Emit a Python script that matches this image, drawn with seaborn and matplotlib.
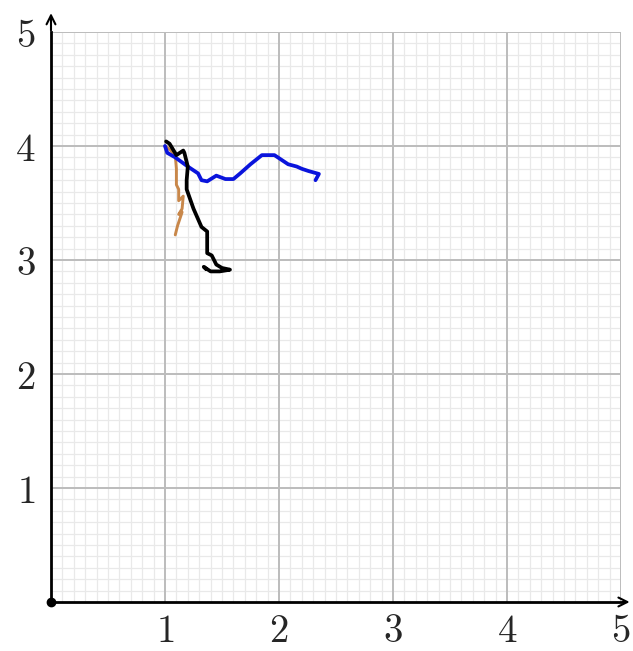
import numpy as np
import pandas as pd
import matplotlib
matplotlib.use("Agg")
import matplotlib.pyplot as plt
import seaborn as sns

sns.set_style("white")
plt.rcParams["mathtext.fontset"] = "cm"

# traced paths
blue_x = [1.00, 1.02, 1.09, 1.20, 1.29, 1.32, 1.37, 1.45, 1.53, 1.60, 1.66, 1.75,
          1.85, 1.96, 2.02, 2.08, 2.155, 2.20, 2.26, 2.35, 2.32]
blue_y = [4.00, 3.94, 3.90, 3.82, 3.76, 3.70, 3.69, 3.74, 3.71, 3.71, 3.76, 3.84,
          3.92, 3.92, 3.88, 3.84, 3.82, 3.80, 3.78, 3.755, 3.70]

black_x = [1.01, 1.04, 1.10, 1.16, 1.17, 1.20, 1.19, 1.19, 1.25, 1.32, 1.37, 1.37,
           1.41, 1.45, 1.50, 1.57, 1.48, 1.40, 1.34, 1.36]
black_y = [4.04, 4.02, 3.92, 3.96, 3.94, 3.82, 3.70, 3.62, 3.45, 3.29, 3.25, 3.06,
           3.04, 2.96, 2.93, 2.915, 2.90, 2.90, 2.94, 2.92]

brown_x = [1.00, 1.04, 1.09, 1.10, 1.10, 1.12, 1.12, 1.16, 1.15, 1.12, 1.15, 1.11, 1.09]
brown_y = [4.00, 3.97, 3.92, 3.80, 3.66, 3.62, 3.52, 3.56, 3.45, 3.40, 3.42, 3.30, 3.22]

ticks = [1, 2, 3, 4, 5]

fig = plt.figure(figsize=(6.33, 6.51), dpi=100)
ax = fig.add_axes([51 / 633, 49 / 651, 570 / 633, 570 / 651])

ax.set_xlim(0, 5)
ax.set_ylim(0, 5)

# grid: minor every 0.1 (skip integers), major at integers drawn on top
minor = [i / 10 for i in range(51) if i % 10 != 0]
ax.set_xticks(minor, minor=True)
ax.set_yticks(minor, minor=True)
ax.grid(which="minor", color="#e9e9e9", lw=0.9)
ax.set_axisbelow(True)
for t in ticks:
    ax.axvline(t, color="#bcbcbc", lw=1.4, zorder=1)
    ax.axhline(t, color="#bcbcbc", lw=1.4, zorder=1)

sns.lineplot(x=brown_x, y=brown_y, sort=False, estimator=None, color="#c8874a", lw=2.1, ax=ax, zorder=3)
sns.lineplot(x=blue_x, y=blue_y, sort=False, estimator=None, color="#0a14dc", lw=2.7, ax=ax, zorder=3)
sns.lineplot(x=black_x, y=black_y, sort=False, estimator=None, color="black", lw=2.7, ax=ax, zorder=3)

ax.set_xticks(ticks)
ax.set_yticks(ticks)
ax.set_xticklabels([f"${t}$" for t in ticks], fontsize=28)
ax.set_yticklabels([f"${t}$" for t in ticks], fontsize=28)
ax.tick_params(which="major", direction="out", length=8, width=2.5, color="black")
ax.tick_params(axis="x", pad=-1)
ax.tick_params(axis="y", pad=3)
ax.tick_params(which="minor", length=0)

for s in ["top", "right"]:
    ax.spines[s].set_visible(False)
for s in ["left", "bottom"]:
    ax.spines[s].set_color("black")
    ax.spines[s].set_linewidth(2)

# axis arrows
ax.annotate("", xy=(0, 5.19), xytext=(0, 4.99), annotation_clip=False,
            arrowprops=dict(arrowstyle="->", lw=1.5, color="black", mutation_scale=16))
ax.annotate("", xy=(5.1, 0), xytext=(4.99, 0), annotation_clip=False,
            arrowprops=dict(arrowstyle="->", lw=1.5, color="black", mutation_scale=16))
ax.plot([0], [0], "o", color="black", ms=6, clip_on=False, zorder=5)

ax.set_xlabel("")
ax.set_ylabel("")
fig.savefig("out.png", dpi=100)
